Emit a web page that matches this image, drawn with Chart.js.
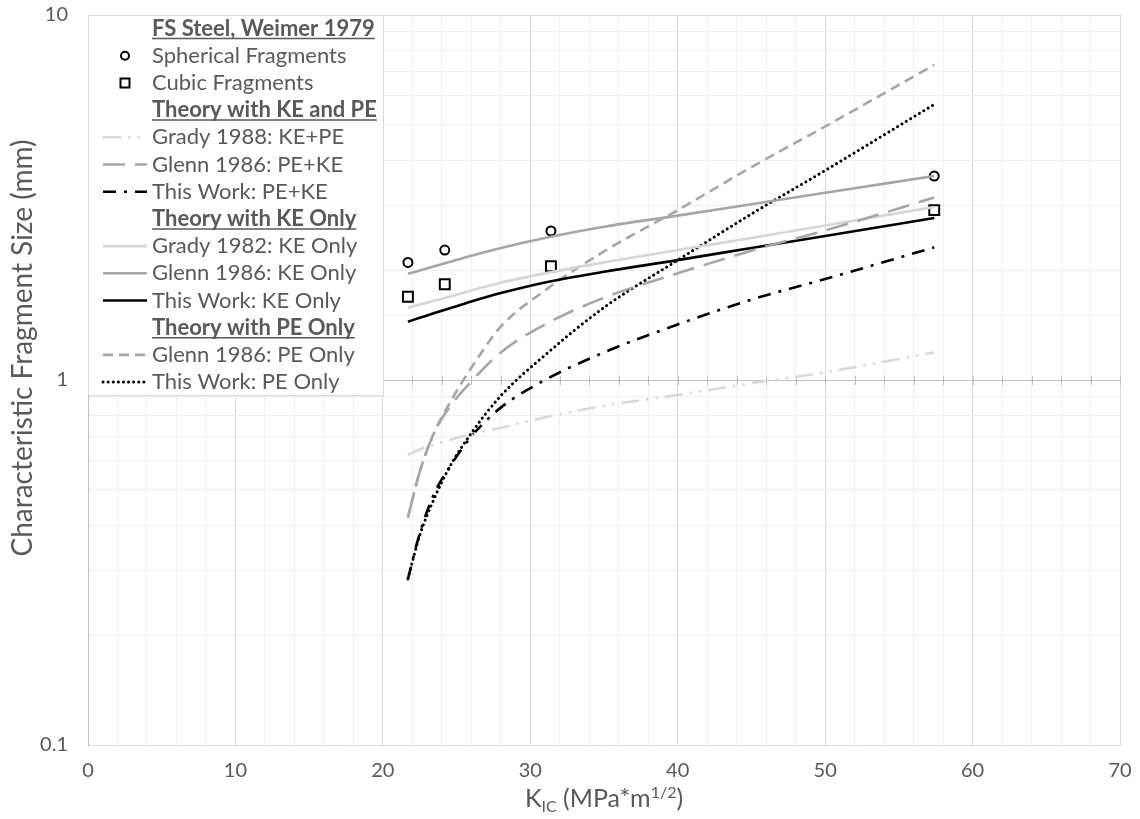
<!DOCTYPE html>
<html>
<head>
<meta charset="utf-8">
<script src="https://cdn.jsdelivr.net/npm/chart.js@4.4.1/dist/chart.umd.min.js"></script>
<style>
  body { margin: 0; background: #fff; }
  #wrap { width: 1140px; height: 819px; }
</style>
</head>
<body>
<div id="wrap"><canvas id="myChart"></canvas></div>
<script>
// K_IC values (MPa*m^1/2) where the theory curves are read
const kX = [21.7, 22.5, 23.5, 24.5, 26, 28, 31, 35, 40, 45, 50, 57.4];

// theory curves, fragment size in mm
const grady1988 = [0.623, 0.645, 0.665, 0.685, 0.71, 0.74, 0.79, 0.85, 0.91, 0.98, 1.05, 1.19];
const glennPEKE = [0.42, 0.56, 0.72, 0.84, 0.99, 1.19, 1.42, 1.68, 1.96, 2.26, 2.57, 3.16];
const thisPEKE  = [0.285, 0.38, 0.49, 0.575, 0.70, 0.84, 1.0, 1.19, 1.42, 1.66, 1.89, 2.31];
const grady1982 = [1.578, 1.61, 1.65, 1.69, 1.76, 1.848, 1.96, 2.10, 2.27, 2.45, 2.65, 2.98];
const glennKE   = [1.955, 1.995, 2.05, 2.105, 2.19, 2.30, 2.45, 2.63, 2.82, 3.03, 3.26, 3.62];
const thisKE    = [1.445, 1.48, 1.525, 1.57, 1.64, 1.73, 1.85, 1.98, 2.13, 2.30, 2.48, 2.78];
const glennPE   = [0.42, 0.56, 0.72, 0.86, 1.08, 1.40, 1.76, 2.25, 2.92, 3.83, 4.95, 7.3];
const thisPE    = [0.285, 0.375, 0.475, 0.575, 0.715, 0.905, 1.17, 1.58, 2.13, 2.85, 3.75, 5.69];

// Weimer 1979 measurements
const fragX = [21.7, 24.2, 31.4, 57.4];
const spherical = [2.10, 2.27, 2.56, 3.62];
const cubic = [1.69, 1.83, 2.05, 2.92];

// legend rows, headers are underlined
const legendRows = [
    { head: 'FS Steel, Weimer 1979' },
    { label: 'Spherical Fragments' },
    { label: 'Cubic Fragments' },
    { head: 'Theory with KE and PE' },
    { label: 'Grady 1988: KE+PE' },
    { label: 'Glenn 1986: PE+KE' },
    { label: 'This Work: PE+KE' },
    { head: 'Theory with KE Only' },
    { label: 'Grady 1982: KE Only' },
    { label: 'Glenn 1986: KE Only' },
    { label: 'This Work: KE Only' },
    { head: 'Theory with PE Only' },
    { label: 'Glenn 1986: PE Only' },
    { label: 'This Work: PE Only' },
];

const FONT = 'Lato, "Open Sans", sans-serif';
const TXT = '#595959';

function curve(label, values, color, dash, cap, width) {
    return {
        label,
        data: kX.map((x, i) => ({ x, y: values[i] })),
        borderColor: color,
        borderWidth: width || 2.6,
        borderDash: dash,
        borderCapStyle: cap || 'butt',
        pointRadius: 0,
        fill: false,
        cubicInterpolationMode: 'monotone',
    };
}

function markers(label, values, style, radius) {
    return {
        label,
        data: fragX.map((x, i) => ({ x, y: values[i] })),
        showLine: false,
        pointStyle: style,
        pointRadius: radius,
        pointBorderWidth: 2,
        pointBorderColor: '#000',
        pointBackgroundColor: '#fff',
        borderColor: '#000',
    };
}

const datasets = [
    curve('Grady 1988: KE+PE', grady1988, '#d9d9d9', [18, 7, 2.5, 7, 2.5, 7]),
    curve('Glenn 1986: PE+KE', glennPEKE, '#a6a6a6', [22, 10]),
    curve('This Work: PE+KE', thisPEKE, '#000', [13, 8, 3, 8]),
    curve('Grady 1982: KE Only', grady1982, '#d6d6d6', []),
    curve('Glenn 1986: KE Only', glennKE, '#a6a6a6', []),
    curve('This Work: KE Only', thisKE, '#000', []),
    curve('Glenn 1986: PE Only', glennPE, '#a6a6a6', [10, 6]),
    curve('This Work: PE Only', thisPE, '#000', [0.1, 5], 'round', 3),
    markers('Spherical Fragments', spherical, 'circle', 4.5),
    markers('Cubic Fragments', cubic, 'rect', 7),
];

function isDecade(v) {
    const l = Math.log10(v);
    return Math.abs(l - Math.round(l)) < 1e-6;
}

// x axis line sits at y = 1 with cross tick marks (Excel style)
const axisAtOne = {
    id: 'axisAtOne',
    beforeDatasetsDraw(chart) {
        const { ctx, chartArea, scales } = chart;
        const y = Math.round(scales.y.getPixelForValue(1));
        ctx.save();
        ctx.strokeStyle = '#bfbfbf';
        ctx.lineWidth = 1;
        ctx.beginPath();
        ctx.moveTo(chartArea.left, y + 0.5);
        ctx.lineTo(chartArea.right, y + 0.5);
        scales.x.ticks.forEach(t => {
            const x = Math.round(scales.x.getPixelForValue(t.value)) + 0.5;
            ctx.moveTo(x, y - 4);
            ctx.lineTo(x, y + 5);
        });
        ctx.stroke();
        ctx.restore();
    }
};

const decor = {
    id: 'decor',
    afterDraw(chart) {
        const { ctx, chartArea } = chart;
        ctx.save();

        // legend box inside the plot, top left
        const bx = chartArea.left, by = chartArea.top, bw = 295, bh = 380;
        ctx.fillStyle = '#fff';
        ctx.fillRect(bx, by, bw, bh);
        ctx.strokeStyle = '#d9d9d9';
        ctx.lineWidth = 1;
        ctx.strokeRect(bx + 0.5, by + 0.5, bw, bh);

        const rowH = 27.2;
        const textX = bx + 64;
        legendRows.forEach((row, i) => {
            const cy = by + 13.5 + i * rowH;
            ctx.textBaseline = 'middle';
            ctx.textAlign = 'left';
            ctx.fillStyle = TXT;
            if (row.head) {
                ctx.font = 'bold 22px ' + FONT;
                ctx.fillText(row.head, textX, cy);
                const w = ctx.measureText(row.head).width;
                ctx.strokeStyle = TXT;
                ctx.lineWidth = 1.5;
                ctx.beginPath();
                ctx.moveTo(textX, cy + 10);
                ctx.lineTo(textX + w, cy + 10);
                ctx.stroke();
                return;
            }
            const ds = chart.data.datasets.find(d => d.label === row.label);
            ctx.font = '22px ' + FONT;
            ctx.fillText(row.label, textX, cy);
            if (ds.showLine === false) {
                const mx = bx + 37;
                ctx.strokeStyle = '#000';
                ctx.fillStyle = '#fff';
                ctx.lineWidth = 2;
                ctx.beginPath();
                if (ds.pointStyle === 'circle') {
                    ctx.arc(mx, cy, 4, 0, Math.PI * 2);
                } else {
                    ctx.rect(mx - 4.5, cy - 4.5, 9, 9);
                }
                ctx.fill();
                ctx.stroke();
            } else {
                ctx.strokeStyle = ds.borderColor;
                ctx.lineWidth = ds.borderWidth;
                ctx.setLineDash(ds.borderDash);
                ctx.lineCap = ds.borderCapStyle;
                ctx.beginPath();
                ctx.moveTo(bx + 15, cy);
                ctx.lineTo(bx + 59, cy);
                ctx.stroke();
                ctx.setLineDash([]);
                ctx.lineCap = 'butt';
            }
        });

        // axis titles
        ctx.fillStyle = TXT;
        ctx.textBaseline = 'alphabetic';
        ctx.textAlign = 'left';
        const parts = [
            { t: 'K', f: '25px ', dy: 0 },
            { t: 'IC', f: '16px ', dy: 5 },
            { t: ' (MPa*m', f: '25px ', dy: 0 },
            { t: '1/2', f: '16px ', dy: -9 },
            { t: ')', f: '25px ', dy: 0 },
        ];
        let total = 0;
        parts.forEach(p => { ctx.font = p.f + FONT; p.w = ctx.measureText(p.t).width; total += p.w; });
        let x = (chartArea.left + chartArea.right) / 2 - total / 2;
        const base = 807;
        parts.forEach(p => {
            ctx.font = p.f + FONT;
            ctx.fillText(p.t, x, base + p.dy);
            x += p.w;
        });

        ctx.translate(23, 348);
        ctx.rotate(-Math.PI / 2);
        ctx.textAlign = 'center';
        ctx.textBaseline = 'middle';
        ctx.font = '28px ' + FONT;
        ctx.fillText('Characteristic Fragment Size (mm)', 0, 0);
        ctx.restore();
    }
};

const config = {
    type: 'line',
    data: { datasets },
    options: {
        responsive: true,
        maintainAspectRatio: false,
        animation: false,
        layout: { padding: { top: 15, right: 20, left: 0, bottom: 0 } },
        plugins: {
            legend: { display: false },
            tooltip: { enabled: false },
        },
        scales: {
            x: {
                type: 'linear',
                min: 0,
                max: 70,
                afterFit: (s) => { s.height = 74; },
                ticks: {
                    stepSize: 2,
                    autoSkip: false,
                    maxRotation: 0,
                    padding: 0,
                    color: TXT,
                    font: { family: FONT, size: 20 },
                    callback: (v) => (v % 10 === 0 ? String(v) : ''),
                },
                grid: {
                    drawTicks: true,
                    tickLength: 14,
                    tickColor: 'rgba(0,0,0,0)',
                    color: (c) => (c.tick && c.tick.value % 10 === 0 ? '#d9d9d9' : '#efefef'),
                },
                border: { display: false },
            },
            y: {
                type: 'logarithmic',
                min: 0.1,
                max: 10,
                afterFit: (s) => { s.width = 88; },
                ticks: {
                    autoSkip: false,
                    padding: 0,
                    color: TXT,
                    font: { family: FONT, size: 20 },
                    callback: (v) => (isDecade(v) ? (v >= 1 ? v.toFixed(0) : v.toFixed(1)) : ''),
                },
                grid: {
                    drawTicks: true,
                    tickLength: 20,
                    tickColor: 'rgba(0,0,0,0)',
                    color: (c) => (c.tick && isDecade(c.tick.value) ? '#d9d9d9' : '#efefef'),
                },
                border: { color: '#bfbfbf' },
            },
        },
    },
    plugins: [axisAtOne, decor],
};

const myChart = new Chart(document.getElementById('myChart'), config);
</script>
</body>
</html>
